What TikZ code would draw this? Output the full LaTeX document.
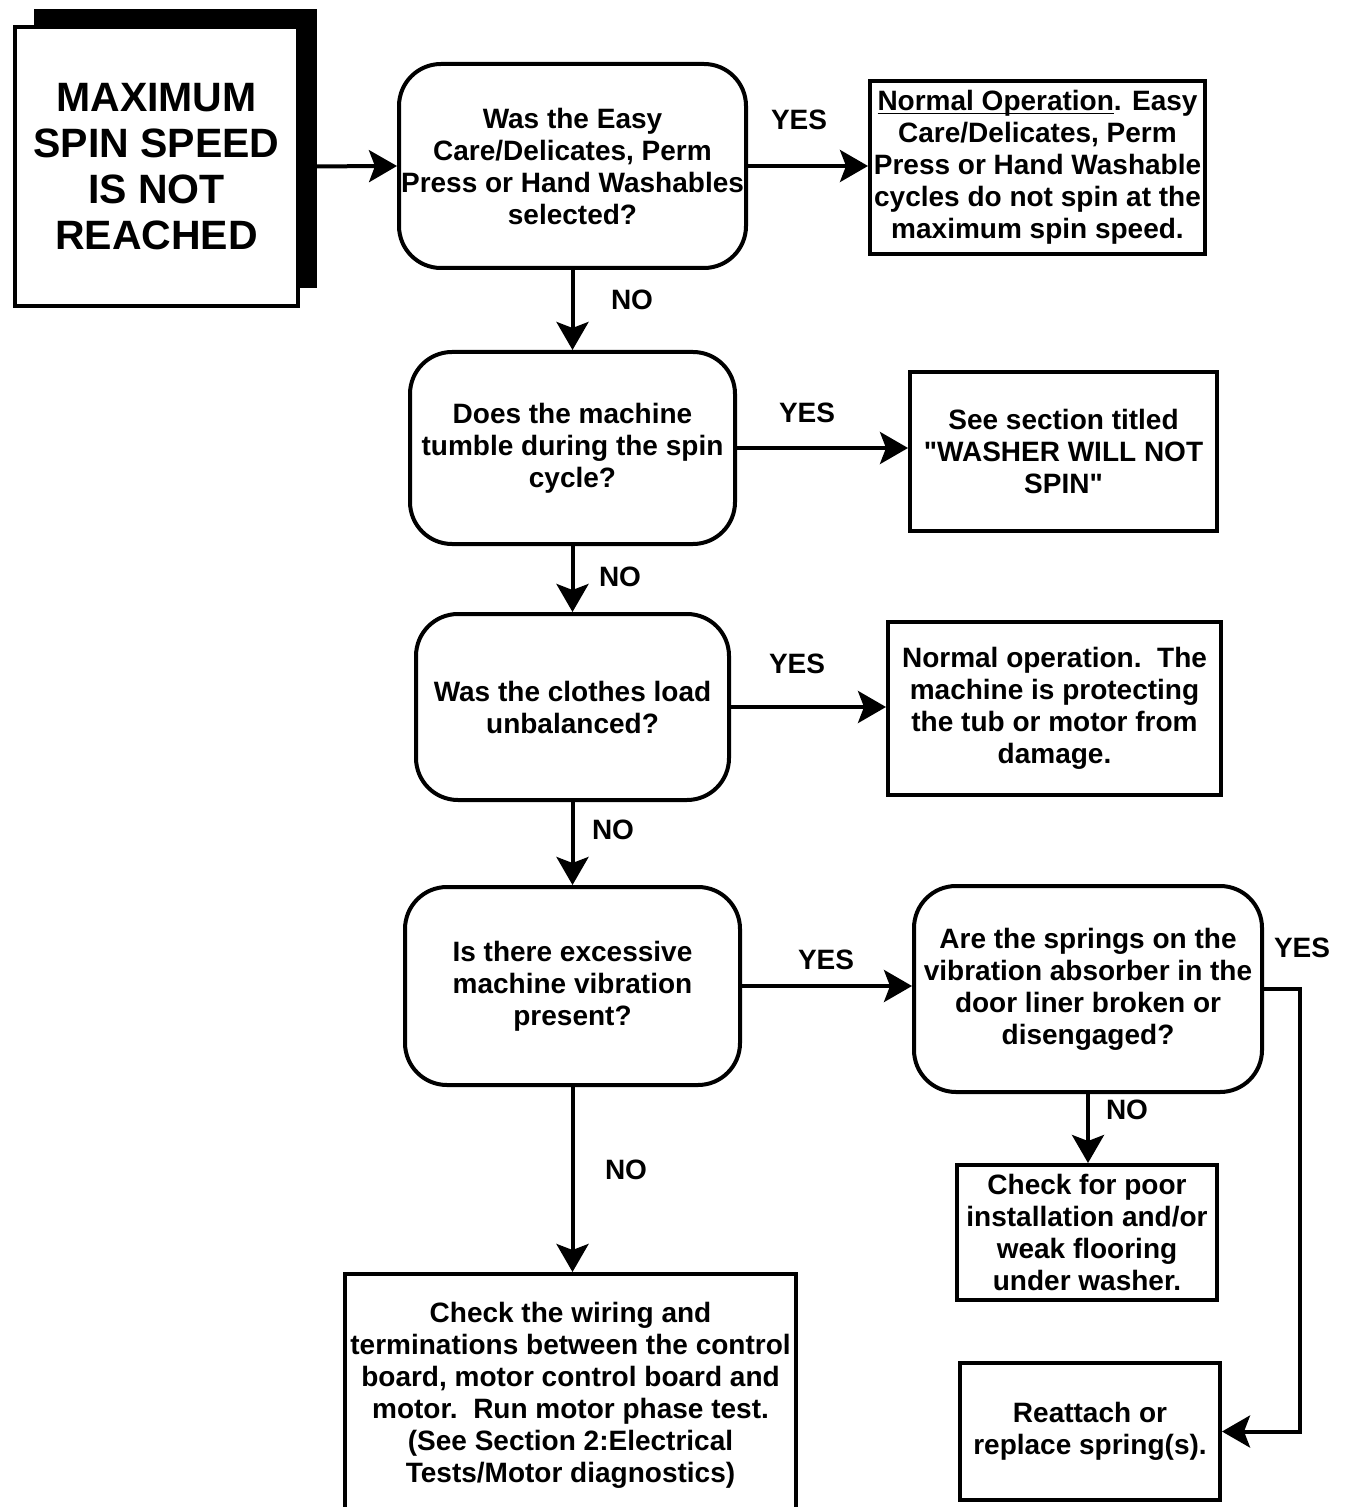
\documentclass[tikz,border=0pt]{standalone}
\usepackage{fontspec}
\setmainfont{Liberation Sans}
\usetikzlibrary{arrows.meta,shadows}
\newcommand{\bodyfont}{\fontsize{14}{16}\selectfont\bfseries}
\newcommand{\titlefont}{\fontsize{20.5}{23}\selectfont\bfseries}
\tikzset{
  qbox/.style={draw, fill=white, line width=2pt, rounded corners=21pt, align=center, inner sep=0pt, font=\bodyfont},
  abox/.style={draw, fill=white, line width=2pt, align=center, inner sep=0pt, font=\bodyfont},
  lbl/.style={inner sep=0pt, font=\bodyfont},
}
\begin{document}
\begin{tikzpicture}[x=0.5pt, y=-0.5pt, line width=2pt, >={Stealth[length=14pt,width=16pt,inset=3pt]}]
		\useasboundingbox (0,0) rectangle (1348,1507);
		\node[abox, font=\titlefont, minimum width=141.5pt, minimum height=139.5pt,
			drop shadow={shadow xshift=9.5pt, shadow yshift=9pt, fill=black, opacity=1}]
			(start) at (156.5,166.5) {MAXIMUM\\SPIN SPEED\\IS NOT\\REACHED};
		\node[qbox, minimum width=173.5pt, minimum height=102pt] (Q1) at (572.5,166)
			{Was the Easy\\Care/Delicates, Perm\\Press or Hand Washables\\selected?};
		\node[abox, minimum width=167.5pt, minimum height=86.5pt] (A1) at (1037.5,167.5)
			{\underline{\smash{Normal Operation}}. Easy\\Care/Delicates, Perm\\Press or Hand Washable\\cycles do not spin at the\\maximum spin speed.};
		\node[qbox, minimum width=162.5pt, minimum height=96pt] (Q2) at (572.5,448)
			{Does the machine\\tumble during the spin\\cycle?};
		\node[abox, minimum width=153.5pt, minimum height=79.5pt] (A2) at (1063.5,451.5)
			{See section titled\\\textquotedbl WASHER WILL NOT\\SPIN\textquotedbl};
		\node[qbox, minimum width=156.5pt, minimum height=93pt] (Q3) at (572.5,707)
			{Was the clothes load\\unbalanced?};
		\node[abox, minimum width=166.5pt, minimum height=86.5pt] (A3) at (1054.5,708.5)
			{Normal operation.\ \ The\\machine is protecting\\the tub or motor from\\damage.};
		\node[qbox, minimum width=167.5pt, minimum height=99pt] (Q4) at (572.5,986)
			{Is there excessive\\machine vibration\\present?};
		\node[qbox, minimum width=174pt, minimum height=103pt] (Q5) at (1088,989)
			{Are the springs on the\\vibration absorber in the\\door liner broken or\\disengaged?};
		\node[abox, minimum width=130pt, minimum height=67.5pt] (A5) at (1087,1232.5)
			{Check for poor\\installation and/or\\weak flooring\\under washer.};
		\node[abox, minimum width=130pt, minimum height=68.5pt] (A6) at (1090,1431.5)
			{Reattach or\\replace spring(s).};
		\node[abox, minimum width=225.5pt, minimum height=121pt] (A4) at (570.5,1395)
			{Check the wiring and\\terminations between the control\\board, motor control board and\\motor.\ \ Run motor phase test.\\(See Section 2:Electrical\\Tests/Motor diagnostics)};
		\coordinate (turn) at (1300,989);
		\draw[->] (start.east) -- (Q1.west);
		\foreach \a/\b in {Q1/A1,Q2/A2,Q3/A3,Q4/Q5}
			\draw[->] (\a.east) -- (\a.east -| \b.west);
		\foreach \a/\b in {Q1/Q2,Q2/Q3,Q3/Q4,Q4/A4,Q5/A5}
			\draw[->] (\a.south) -- (\a.south |- \b.north);
		\draw[->] (Q5.east) -- (turn) |- (A6.east);
		\foreach \n/\t/\x/\y in {y1/YES/799/120, n1/NO/632/300, y2/YES/807/413, n2/NO/620/577,
			y3/YES/797/664, n3/NO/613/830, y4/YES/826/960, n4/NO/626/1170,
			y5/YES/1302/948, n5/NO/1127/1110}
			\node[lbl] (\n) at (\x,\y) {\t};
\end{tikzpicture}
\end{document}
